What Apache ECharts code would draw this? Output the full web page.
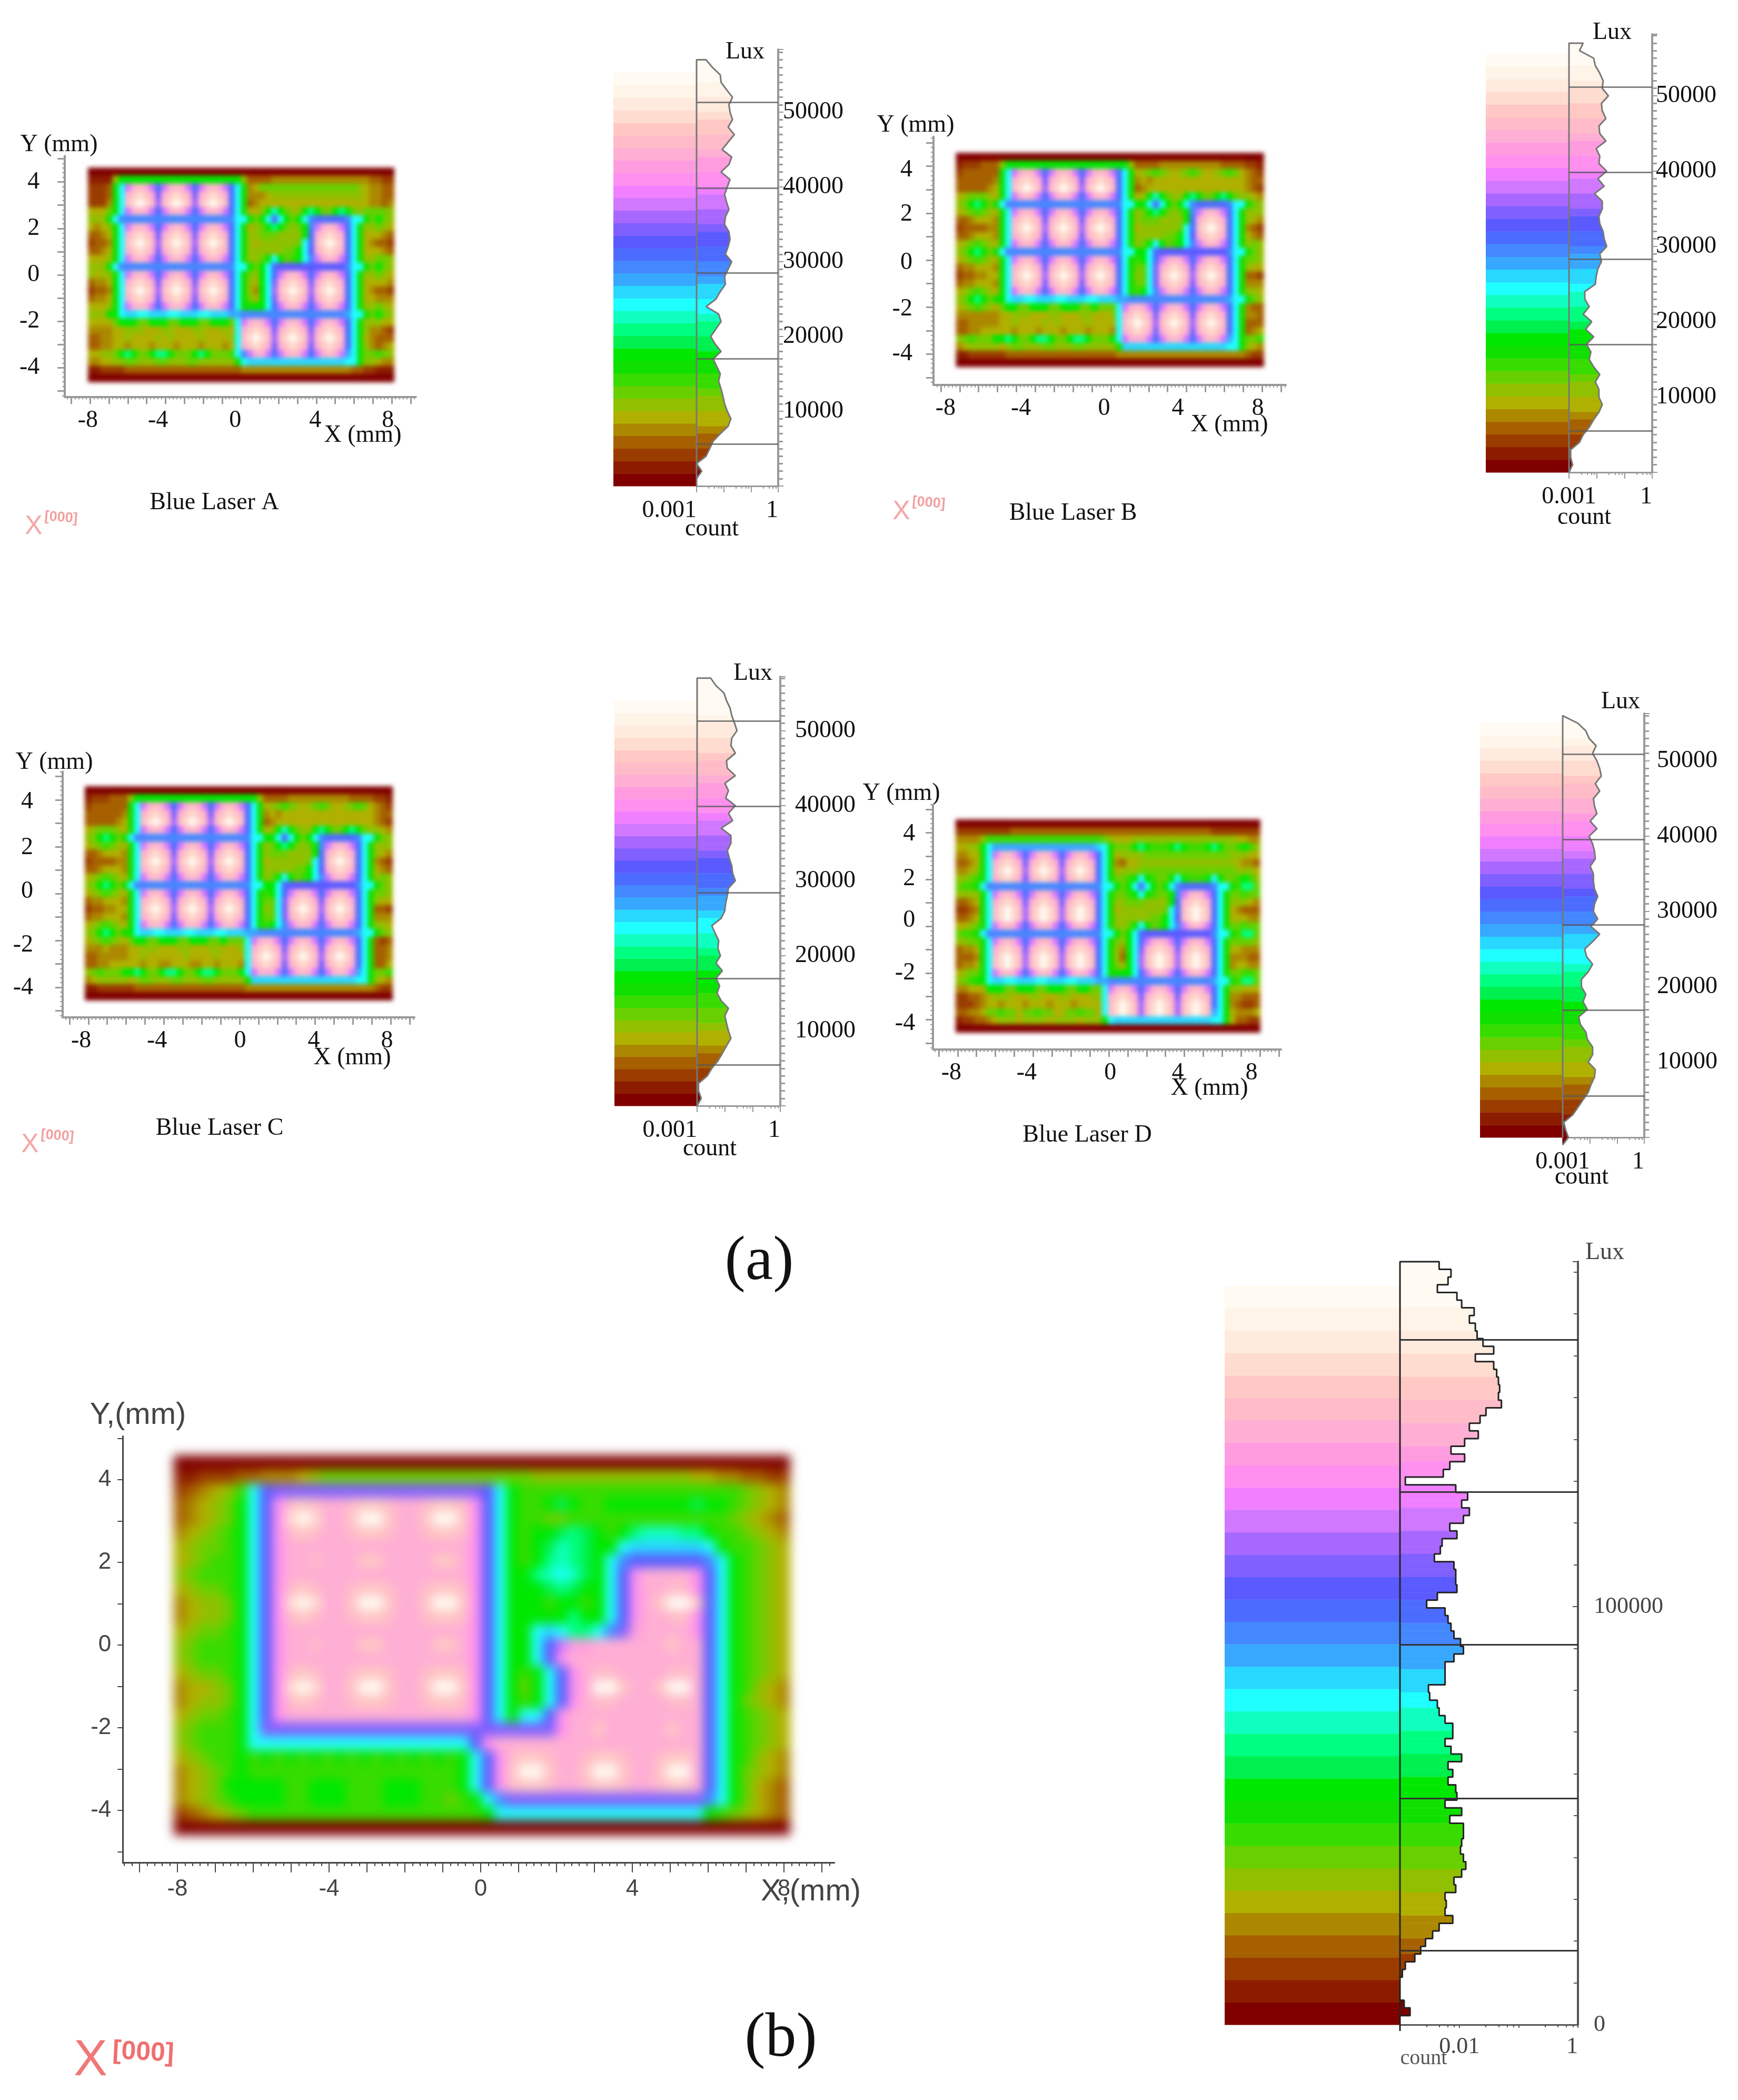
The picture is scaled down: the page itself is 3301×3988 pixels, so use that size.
<!DOCTYPE html>
<html><head><meta charset="utf-8">
<style>
html,body{margin:0;padding:0;background:#fff}
#chart{width:3301px;height:3988px}
#chart canvas[data-zr-dom-id="zr_0"]{filter:blur(4px)}
#chart canvas[data-zr-dom-id="zr_1"]{filter:blur(10px)}
</style>
<script src="https://cdn.jsdelivr.net/npm/echarts@6/dist/echarts.min.js"></script>
</head><body><div id="chart"></div>
<script>
// colour bands of the lux scale, dark red (low) to near white (high)
const BANDS=['#800000','#8c1c00','#9a3c00','#a66000','#ac8800','#b0b000','#90c000','#68d000','#38dc00','#10e000','#00e800','#00f050','#00ff80','#10ffc0','#20ffff','#28d8ff','#38a8ff','#4488ff','#4c6cff','#5a5aff','#8060ff','#a868ff','#d078ff','#f080ff','#ff90f0','#ff9ce0','#ffaed4','#ffbcc8','#ffc8c4','#ffdcd0','#ffeade','#fff4e8','#fffaf2'];
const X_LABELS=[-8,-4,0,4,8];
const Y_LABELS=[-4,-2,0,2,4];

// illuminance maps, one base-33 band letter per cell, rows from top to bottom
const Z50='00000000000000000000000000000000000000000000000000';
const T='6aaaaaaaaaaaaaaaaaaaa6';
const P1='9emqrqmimqrqmimqrqmie9';
const P2='9eqstsqkqstsqkqstsqie9';
const P3='9ertwtrlrtwtrlrtwtrie9';
const BD='ehhhhhhhhhhhhhhhhhhhee';
const U='aeffeefffeefffeefffggh';
const heatA=[Z50,
'1111'+T+'333344444444444444443322',
'2223'+P1+'457777777777777777654433',
'2223'+P2+'444566666666666666654433',
'2224'+P3+'345555555555555555554434',
'5557'+P1+'556ada766aca77aca7677776',
'6669'+BD+'a7aeiea7aehiiiiihee97a76',
'5456'+P1+'567aca767ah'+'mqrqm'+'ie9'+'66765',
'3345'+P2+'66777666'+'6ai'+'qstsq'+'ie9'+'55543',
'2334'+P3+'65666666'+'7ei'+'rtwtr'+'ie9'+'54332',
'3345'+P2+'66666677'+'aej'+'qstsq'+'ie9'+'55543',
'5556'+P1+'667aea78'+'aeh'+'mqrqm'+'ie9'+'66776',
'6669'+BD+'a7aei'+'jjjjj'+'j'+'jjjjj'+'hee97a76',
'6566'+P1+'76aei'+'mqrqm'+'i'+'mqrqm'+'ie9'+'66765',
'3445'+P2+'65aek'+'qstsq'+'k'+'qstsq'+'ie9'+'55554',
'2334'+P3+'64ael'+'rtwtr'+'l'+'rtwtr'+'ie9'+'54332',
'3445'+P2+'75aek'+'qstsq'+'k'+'qstsq'+'ie9'+'55444',
'5556'+P1+'9aaei'+'mqrqm'+'i'+'mqrqm'+'ie9'+'66765',
'6669'+U+'hhhhhhhhhhhhhhhh'+'gee97a76',
'5555'+'7aaa77aaa77aaa77aaa7'+'em'+'qrqm'+'i'+'mqrqm'+'i'+'mqrqm'+'ie9'+'66655',
'4444'+'55666555665556655565'+'eq'+'stsq'+'k'+'qstsq'+'k'+'qstsq'+'ie9'+'64432',
'3344'+'55655556565555655556'+'er'+'twtr'+'l'+'rtwtr'+'l'+'rtwtr'+'ie9'+'54333',
'3344'+'55455545554555455545'+'eq'+'stsq'+'k'+'qstsq'+'k'+'qstsq'+'ie9'+'64345',
'5566'+'7aca77acca777aca7778'+'eh'+'mqqm'+'i'+'mqrqm'+'i'+'mqrqm'+'ge9'+'77876',
'4455'+'66776667766677666666'+'9e'+'ffffffffffffffffee'+'9'+'66544',
'1122'+'22333333333333333333'+'34'+'444444444444444443'+'3'+'22111',
Z50];
const heatB=[Z50,
'1222333'+T+'333344444444443333221',
'2333333'+P1+'567876567875567875432',
'3333334'+P2+'454555555555555555433',
'3333345'+P3+'345555555555555555432',
'5677765'+P1+'56ada766aca77aca76654',
'67aca79'+BD+'aaeiea7aehiiiiihee976',
'5678765'+P1+'67aca767ah'+'mqrqm'+'ie9'+'666',
'3345554'+P2+'6777666'+'6ai'+'qstsq'+'ie9'+'654',
'2333344'+P3+'5666666'+'7ei'+'rtwtr'+'ie9'+'432',
'3345554'+P2+'6666677'+'aej'+'qstsq'+'ie9'+'543',
'5678765'+P1+'67aea78'+'aeh'+'mqrqm'+'ie9'+'676',
'67aca79'+BD+'aaei'+'jjjjj'+'j'+'jjjjj'+'hee976',
'5678765'+P1+'8aei'+'mqrqm'+'i'+'mqrqm'+'ie9'+'776',
'3445554'+P2+'77ek'+'qstsq'+'k'+'qstsq'+'ie9'+'655',
'2334455'+P3+'67ek'+'rtwtr'+'l'+'rtwtr'+'ie9'+'332',
'3445554'+P2+'77ek'+'qstsq'+'k'+'qstsq'+'ie9'+'444',
'5678765'+P1+'8aeh'+'mqrqm'+'i'+'mqrqm'+'ie9'+'665',
'67aca79'+U+'hhhhhhhhhhhhhhh'+'g'+'ee'+'976',
'5678765'+'7aa77aaa77aaa77a777'+'e'+'mqrqm'+'i'+'mqrqm'+'i'+'mqrqm'+'ie9'+'433',
'4444444'+'5566655566555665556'+'e'+'qstsq'+'k'+'qstsq'+'k'+'qstsq'+'ie9'+'443',
'3344444'+'5565555656555565555'+'e'+'rtwtr'+'l'+'rtwtr'+'l'+'rtwtr'+'ie9'+'333',
'3344555'+'5545554555455545554'+'e'+'qstsq'+'k'+'qstsq'+'k'+'qstsq'+'ie9'+'345',
'678777a'+'aca77acca77acca777a'+'e'+'mqqqm'+'i'+'mqrqm'+'i'+'mqrqm'+'ge9'+'778',
'4566666'+'5677666776667766666'+'9'+'fffffffffffffffffee'+'9'+'654',
'1122222'+'2333333333333333333'+'4'+'4444444444444444444'+'4'+'322',
Z50];
const heatC=heatB.slice();
heatC[19]='5678765'+'7aa77aaa77aaa77a777'+'e'+'mqrqm'+'i'+'mqrqm'+'i'+'mqrqm'+'ie9'+'323';
heatC[20]='4445444'+'5566655566555665556'+'e'+'qstsq'+'k'+'qstsq'+'k'+'qstsq'+'ie9'+'334';
heatC[21]='3344444'+'5565555556555565555'+'e'+'rtwtr'+'l'+'rtwtr'+'l'+'rtwtr'+'ie9'+'334';
heatC[22]='3344555'+'5545544555445545554'+'e'+'qstsq'+'k'+'qstsq'+'k'+'qstsq'+'ie9'+'335';
const heatD=[Z50,
'22222222233333333333333333333333333333333322222222',
'4444'+'6888888888888888888876'+'555666666666666666665544',
'5566'+'aegggggggggggggggggfe9'+'777aca888aca888aca778a86',
'4455'+P1+'566667777777777777766655',
'3345'+P2+'435566666666666666665443',
'4456'+P3+'566677777777777777776665',
'6678'+P2+'778aea877aea888aea778a86',
'7889'+BD+'a7aeiea7aehiiiiihee98cc7',
'6666'+P1+'778aea877ah'+'mqrqm'+'ie9'+'77877',
'3345'+P2+'66777666'+'6ai'+'qstsq'+'ie9'+'66654',
'2234'+P3+'56666666'+'7ei'+'rtwtr'+'ie9'+'54333',
'3345'+P3+'66666677'+'aej'+'rtwtr'+'ie9'+'55544',
'5567'+P1+'667aea78'+'aeh'+'mqrqm'+'ie9'+'77877',
'7889'+BD+'a7aei'+'jjjjj'+'j'+'jjjjj'+'hee98cc7',
'6677'+P1+'76aei'+'mqrqm'+'i'+'mqrqm'+'ie9'+'77776',
'3445'+P2+'64aek'+'qstsq'+'k'+'qstsq'+'ie9'+'55444',
'3334'+P3+'63ael'+'rtwtr'+'l'+'rtwtr'+'ie9'+'44433',
'3445'+P3+'75ael'+'rtwtr'+'l'+'rtwtr'+'ie9'+'45544',
'5677'+P1+'9aaei'+'mqrqm'+'i'+'mqrqm'+'ie9'+'77887',
'6789'+U+'hhhhhhhhhhhhhhhh'+'gee98cc7',
'4455'+'5aaa77aaa77aaa77aa77'+'em'+'qrqm'+'i'+'mqrqm'+'i'+'mqrqm'+'ie9'+'66555',
'2233'+'45666555665556655566'+'eq'+'stsq'+'k'+'qstsq'+'k'+'qstsq'+'ie9'+'44333',
'2223'+'45545554555455545555'+'er'+'twtr'+'l'+'rtwtr'+'l'+'rtwtr'+'ie9'+'43223',
'3344'+'57787757787755778775'+'er'+'twtr'+'l'+'rtwtr'+'l'+'rtwtr'+'ge9'+'54445',
'1223'+'34566656666566665666'+'9e'+'ffffffffffffffffee'+'9'+'53322',
Z50];
const QQ='qqqqqqqqqqqqqqq',WW='twtqqswwsqqswws',HH='rsrqqrssrqqrssr',FF='qqrqqqssqqqqssq';
const EB=p=>'aejo'+p+'ojea';
const heatE=[Z50,
'11222334445677777777777777777666666666666655443322',
'23456'+'8ej'+'kkkkkkkkkkkkkkkkk'+'jea'+'8888888888888888887654',
'34567'+EB(HH)+'88aba88aaaaaaabaa87654',
'34567'+EB(WW)+'8877888888888888876543',
'45678'+EB(HH)+'8aabcba'+'8'+'a'+'cdddcc'+'a'+'8'+'8'+'7654',
'56778'+EB(QQ)+'8abdcba'+'a'+'e'+'ffffff'+'e'+'a'+'8'+'8765',
'56788'+EB(FF)+'8acdcba'+'e'+'h'+'jjjjjj'+'h'+'e'+'a'+'8765',
'67888'+EB(QQ)+'acdedba'+'ej'+'oqqqqo'+'jea'+'8765',
'56778'+EB(HH)+'aabcbaa'+'ej'+'oqqrro'+'jea'+'8765',
'45667'+EB(WW)+'aa8aa8a'+'ej'+'oqswws'+'jea'+'8765',
'45667'+EB(HH)+'aaaacaa'+'ej'+'oqqrro'+'jea'+'8765',
'56778'+EB(QQ)+'aefecce'+'hk'+'pqqqqo'+'jea'+'8765',
'67888'+EB(FF)+'aejmppq'+'qq'+'qqqsqq'+'jea'+'8765',
'67888'+EB(QQ)+'aejoqqq'+'qq'+'qqqqqq'+'jea'+'8765',
'56778'+EB(HH)+'8aejoqr'+'rq'+'qqqrrq'+'jea'+'8765',
'45567'+EB(WW)+'7aejoqw'+'ws'+'qqswwq'+'jea'+'8654',
'45667'+EB(HH)+'8aejoqr'+'rq'+'qqqrrq'+'jea'+'7654',
'56778'+EB(QQ)+'eejoqqq'+'qq'+'qqqqqq'+'jea'+'8765',
'67888'+'ae'+'kkkkkkkkkkkkkkkkkkkkkkkk'+'o'+'qqsqqqqqsqq'+'jea'+'8765',
'67888'+'a'+'eeeeeeeeeeeeeeeeee'+'jo'+'qqqqqqqqqqqqqqqqq'+'jea'+'8765',
'56788'+'a'+'89898989898989898'+'aejo'+'rssrqqrssrqqrssq'+'jea'+'8654',
'45678'+'a'+'88888888888888888'+'aejo'+'swwsqqswwsqqswwq'+'jea'+'7654',
'4567a'+'a'+'aaa88aaa888aaa888'+'aejo'+'rssrqqrssrqqrssq'+'jea'+'7543',
'45678'+'a'+'aaa88aaa888aaa887'+'8aeh'+'kkkkkkkkkkkkkkkk'+'hea'+'7543',
'23456'+'7888888888888888888'+'8a'+'eeeeeeeeeeeeeeeee'+'a87'+'6543',
Z50];

// log10(count) per 1000 lux bin, highest lux first
const histA=[-2.65,-2.42,-2.13,-2.10,-1.90,-1.68,-1.81,-1.77,-1.68,-1.84,-1.61,-1.84,-2.06,-1.71,-1.81,-2.10,-1.77,-1.87,-1.97,-1.90,-1.81,-1.94,-1.97,-1.81,-1.77,-1.84,-1.94,-1.71,-1.84,-1.97,-1.94,-2.13,-2.29,-2.65,-2.19,-2.10,-2.29,-2.48,-2.32,-2.10,-2.39,-2.26,-2.13,-2.19,-2.10,-2.03,-1.97,-1.87,-1.74,-1.84,-2.13,-2.39,-2.52,-2.65,-3,-2.81,-3,-3];
const histB=[-2.49,-2.62,-2.11,-2.05,-1.89,-1.77,-1.80,-1.58,-1.83,-1.80,-1.67,-1.92,-1.89,-1.67,-2.02,-1.89,-1.92,-1.64,-1.96,-1.73,-2.08,-1.80,-1.80,-1.92,-1.89,-1.77,-1.73,-1.64,-1.89,-1.83,-1.96,-2.02,-2.05,-2.43,-2.43,-2.27,-2.49,-2.18,-2.40,-2.11,-2.37,-2.21,-2.27,-2.11,-1.89,-2.05,-1.92,-1.92,-1.80,-1.92,-2.11,-2.27,-2.49,-2.62,-2.94,-2.94,-2.87,-3];
const histC=[-2.51,-2.32,-2.03,-1.94,-1.81,-1.75,-1.65,-1.56,-1.75,-1.78,-1.62,-1.94,-1.91,-1.62,-2.00,-1.87,-1.97,-1.62,-1.87,-1.72,-2.13,-1.78,-1.78,-1.91,-1.84,-1.75,-1.72,-1.62,-1.87,-1.91,-1.97,-2.00,-2.13,-2.47,-2.35,-2.22,-2.25,-2.16,-2.32,-2.09,-2.32,-2.19,-2.28,-2.13,-1.87,-2.00,-1.94,-1.87,-1.78,-1.94,-2.09,-2.25,-2.47,-2.63,-2.95,-2.95,-2.85,-3];
const histD=[-3,-2.44,-2.15,-2.03,-1.77,-1.90,-1.74,-1.64,-1.58,-1.80,-1.64,-1.87,-1.83,-1.74,-1.99,-1.74,-2.03,-1.90,-1.83,-1.80,-1.99,-1.87,-1.87,-1.83,-1.71,-1.83,-1.87,-1.71,-1.96,-1.64,-1.90,-2.19,-2.12,-1.90,-2.06,-2.31,-2.31,-2.15,-2.25,-2.09,-2.41,-2.35,-2.15,-2.09,-1.90,-1.90,-2.06,-1.80,-1.83,-1.96,-2.06,-2.25,-2.44,-2.63,-2.96,-2.89,-2.79,-3];
const histE=[-2.34,-2.14,-2.19,-2.37,-2.04,-1.96,-1.75,-1.83,-1.73,-1.70,-1.60,-1.42,-1.73,-1.42,-1.37,-1.34,-1.32,-1.34,-1.29,-1.55,-1.65,-1.83,-1.68,-1.91,-2.14,-1.91,-2.16,-2.27,-2.91,-2.06,-1.86,-1.96,-1.83,-1.93,-2.16,-2.04,-2.29,-2.32,-2.42,-2.09,-2.06,-2.06,-2.04,-2.37,-2.55,-2.24,-2.19,-2.14,-2.09,-1.98,-1.93,-2.09,-2.24,-2.24,-2.24,-2.52,-2.50,-2.37,-2.34,-2.24,-2.11,-2.11,-2.24,-2.14,-1.96,-2.19,-2.11,-2.19,-2.06,-2.04,-2.24,-1.96,-2.16,-1.93,-1.93,-1.96,-1.98,-1.93,-1.89,-1.96,-2.09,-2.06,-2.24,-2.22,-2.24,-2.11,-2.34,-2.45,-2.57,-2.65,-2.75,-2.91,-2.96,-3,-3,-3,-2.93,-2.83,-3,-3,-3];

// horizontal marker levels of each histogram (lux)
const linesA=[5630,17040,28500,39860,51340];
const linesB=[5490,16990,28320,39820,51190];
const linesC=[5470,16980,28420,39930,51300];
const linesD=[5520,16920,28250,39580,50910];
const linesE=[17760,54160,90930,127450,163850];

const SERIF='"Liberation Serif","Times New Roman",serif';
const SANS='"Liberation Sans Narrow","Liberation Sans",sans-serif';
const ink='#111';

const maps=[
 {rows:heatA,cx:457.6,cy:522,sx:35.8,sy:44.1,x:[-9.34,9.28],y:[-5.25,5.12],hx:[-8.12,8.11],hy:[-4.6,4.62],yMargin:48,
  xAt:[-8.12,-4.4,-0.3,3.94,7.8],yAt:[-4,-2,0,2,4]},
 {rows:heatB,cx:2110,cy:494,sx:35.9,sy:44.6,x:[-9.39,9.25],y:[-5.31,5.25],hx:[-8.2,8.07],hy:[-4.53,4.57],yMargin:40,
  xAt:[-8.75,-4.76,-0.36,3.54,7.77],yAt:[-4,-2.09,-0.12,1.96,3.83]},
 {rows:heatC,cx:455,cy:1697,sx:35.9,sy:44.5,x:[-9.36,9.25],y:[-5.28,5.21],hx:[-8.19,8.08],hy:[-4.54,4.58],yMargin:56,
  xAt:[-8.38,-4.37,0.03,3.93,7.8],yAt:[-4.03,-2.21,0.09,1.95,3.91]},
 {rows:heatD,cx:2106,cy:1759,sx:35.9,sy:44.4,x:[-9.3,9.11],y:[-5.27,5.2],hx:[-8.11,7.99],hy:[-4.53,4.57],yMargin:34,
  xAt:[-8.33,-4.35,0.08,3.65,7.55],yAt:[-4.16,-2,0.24,2.03,3.94]},
 {rows:heatE,cx:913,cy:3124,sx:72,sy:78.5,x:[-9.44,9.33],y:[-5.27,5.05],hx:[-8.1,8.15],hy:[-4.59,4.59],yMargin:22,big:true,
  xAt:[-8,-4,0,4,8],yAt:[-4,-2,0,2,4]}
];
const hists=[
 {vals:histA,lines:linesA,barL:1165,a0:1323,a1:1478,zero:923,k:14.2,top:94,barTop:138,step:1000,first:57000,lm:9,minAlign:'right'},
 {vals:histB,lines:linesB,barL:2822,a0:2980,a1:3138,zero:897,k:14.3,top:65,barTop:102,step:1000,first:57000,lm:7,minAlign:'center'},
 {vals:histC,lines:linesC,barL:1167,a0:1324,a1:1482,zero:2100,k:14.25,top:1285,barTop:1331,step:1000,first:57000,lm:28,minAlign:'right'},
 {vals:histD,lines:linesD,barL:2811,a0:2968,a1:3123,zero:2160,k:14.3,top:1355,barTop:1373,step:1000,first:56000,lm:24,minAlign:'center'},
 {vals:histE,lines:linesE,barL:2326,a0:2659,a1:2997,zero:3845,k:7.94,top:2396,barTop:2442,step:1840,first:182500,lm:30,big:true}
];
const texts=[
 ['Y (mm)',112,275],['X (mm)',689,827],['Blue Laser A',407,955],['Lux',1415,99],['count',1352,1005],
 ['Y (mm)',1739,238],['X (mm)',2335,807],['Blue Laser B',2038,975],['Lux',3062,62],['count',3009,983],
 ['Y (mm)',103,1448],['X (mm)',669,2009],['Blue Laser C',417,2143],['Lux',1430,1279],['count',1348,2182],
 ['Y (mm)',1712,1507],['X (mm)',2297,2067],['Blue Laser D',2065,2156],['Lux',3078,1333],['count',3004,2236]
];

const grid=[],xAxis=[],yAxis=[],series=[],graphic=[];
const range=(a,b,s)=>{const r=[];for(let i=Math.ceil(a/s-1e-9);i*s<=b+1e-9;i++)r.push(+(i*s).toFixed(2));return r;};
const tick=(col,w,len,vals)=>({show:true,length:len,lineStyle:{color:col,width:w},customValues:vals});

maps.forEach(m=>{
  const gi=grid.length;
  const c=m.big?'#444':'#999';
  const lw=m.big?3:4;
  const labelFont={fontFamily:m.big?SANS:SERIF,fontSize:m.big?44:46,color:m.big?'#444':ink};
  grid.push({left:m.cx+m.sx*m.x[0],top:m.cy-m.sy*m.y[1],width:m.sx*(m.x[1]-m.x[0]),height:m.sy*(m.y[1]-m.y[0])});
  const xBase={type:'value',gridIndex:gi,min:m.x[0],max:m.x[1],zlevel:2,splitLine:{show:false},position:'bottom'};
  const yBase={type:'value',gridIndex:gi,min:m.y[0],max:m.y[1],zlevel:2,splitLine:{show:false},position:'left'};
  const xi=xAxis.length,yi=yAxis.length;
  xAxis.push(Object.assign({},xBase,{axisLine:{show:true,onZero:false,lineStyle:{color:c,width:lw}},
    axisTick:tick(c,2,m.big?6:5,range(m.x[0],m.x[1],0.2)),axisLabel:{show:false}}));
  xAxis.push(Object.assign({},xBase,{axisLine:{show:false,onZero:false},
    axisTick:tick(c,m.big?2:3,m.big?18:14,range(m.x[0],m.x[1],1)),
    axisLabel:Object.assign({show:true,margin:m.big?28:22,customValues:m.xAt,
      formatter:v=>String(X_LABELS[m.xAt.indexOf(v)])},labelFont)}));
  yAxis.push(Object.assign({},yBase,{axisLine:{show:true,onZero:false,lineStyle:{color:c,width:lw}},
    axisTick:tick(c,2,m.big?0:5,range(m.y[0],m.y[1],0.2)),axisLabel:{show:false}}));
  yAxis.push(Object.assign({},yBase,{axisLine:{show:false,onZero:false},
    axisTick:tick(c,m.big?2:3,m.big?10:14,range(m.y[0],m.y[1],1)),
    axisLabel:Object.assign({show:true,margin:m.yMargin,customValues:m.yAt,
      formatter:v=>String(Y_LABELS[m.yAt.indexOf(v)])},labelFont)}));
  const nr=m.rows.length,nc=50,dx=(m.hx[1]-m.hx[0])/nc,dy=(m.hy[1]-m.hy[0])/nr;
  const data=[];
  m.rows.forEach((row,r)=>{
    for(let i=0;i<nc;i++){
      const ch=row.charAt(Math.min(i,row.length-1));
      data.push([m.hx[0]+i*dx,m.hy[1]-r*dy,parseInt(ch,33)||0]);
    }
  });
  series.push({type:'custom',coordinateSystem:'cartesian2d',xAxisIndex:xi,yAxisIndex:yi,zlevel:m.big?1:0,
    silent:true,animation:false,clip:false,data:data,encode:{x:0,y:1},progressive:0,
    renderItem:(p,api)=>{
      const a=api.coord([api.value(0),api.value(1)]),b=api.coord([api.value(0)+dx,api.value(1)-dy]);
      return {type:'rect',shape:{x:a[0],y:a[1],width:b[0]-a[0]+1,height:b[1]-a[1]+1},style:{fill:BANDS[api.value(2)]}};
    }});
});

hists.forEach(h=>{
  const maxLux=(h.zero-h.top)/h.k*1000, barLux=(h.zero-h.barTop)/h.k*1000, band=barLux/BANDS.length;
  const H=h.zero-h.top;
  // colour bar
  let gi=grid.length;
  grid.push({left:h.barL,top:h.top,width:h.a0-h.barL,height:H});
  let xi=xAxis.length,yi=yAxis.length;
  xAxis.push({type:'value',gridIndex:gi,min:0,max:1,show:false});
  yAxis.push({type:'value',gridIndex:gi,min:0,max:maxLux,show:false});
  series.push({type:'custom',xAxisIndex:xi,yAxisIndex:yi,zlevel:2,z:1,silent:true,animation:false,
    data:BANDS.map((c,i)=>[0,i*band,1,(i+1)*band,i]),encode:{x:[0,2],y:[1,3]},
    renderItem:(p,api)=>{
      const a=api.coord([0,api.value(3)]),b=api.coord([1,api.value(1)]);
      return {type:'rect',shape:{x:a[0],y:a[1],width:b[0]-a[0],height:b[1]-a[1]+0.5},style:{fill:BANDS[api.value(4)]}};
    }});
  // histogram
  gi=grid.length;
  grid.push({left:h.a0,top:h.top,width:h.a1-h.a0,height:H});
  xi=xAxis.length;yi=yAxis.length;
  const c=h.big?'#555':'#999';
  const font={fontFamily:SERIF,fontSize:h.big?44:46,color:h.big?'#444':ink};
  xAxis.push({type:'log',logBase:10,gridIndex:gi,min:0.001,max:1,position:'bottom',zlevel:2,splitLine:{show:false},
    axisLine:{show:true,onZero:false,lineStyle:{color:c,width:3}},
    axisTick:{show:true,length:h.big?6:12,lineStyle:{color:c,width:2}},
    minorTick:{show:true,splitNumber:5,length:5,lineStyle:{color:c,width:2}},
    axisLabel:Object.assign({show:true,margin:h.big?20:24,showMinLabel:true,showMaxLabel:true,hideOverlap:false,
      alignMinLabel:h.minAlign||'center',alignMaxLabel:'right',
      formatter:v=>{const e=Math.round(Math.log10(v));
        if(h.big) return e===-2?'0.01':e===0?'1':'';
        return e===-3?'0.001':e===0?'1':'';}},font)});
  yAxis.push({type:'value',gridIndex:gi,min:0,max:maxLux,position:'right',zlevel:2,splitLine:{show:false},
    interval:h.big?100000:10000,
    axisLine:{show:true,onZero:false,lineStyle:{color:c,width:4}},
    axisTick:{show:true,inside:!!h.big,length:10,lineStyle:{color:c,width:2}},
    minorTick:{show:true,splitNumber:10,length:h.big?8:9,lineStyle:{color:c,width:h.big?2:3}},
    axisLabel:Object.assign({show:true,margin:h.lm,showMaxLabel:false,showMinLabel:!!h.big,
      formatter:v=>(h.big?(v===0||v===100000):(v>0&&v%10000===0))?String(v):''},font)});
  const pts=h.vals.map((l,i)=>[Math.pow(10,l),h.first-i*h.step]);
  const fill=[];
  for(let i=0;i<pts.length-1;i++){
    const next=h.big?pts[i][0]:pts[i+1][0];
    fill.push([pts[i][0],pts[i][1],next,pts[i+1][1]]);
  }
  series.push({type:'custom',xAxisIndex:xi,yAxisIndex:yi,zlevel:2,z:2,silent:true,animation:false,clip:false,
    data:fill,encode:{x:[0,2],y:[1,3]},
    renderItem:(p,api)=>{
      const c1=api.value(0),l1=api.value(1),c2=api.value(2),l2=api.value(3);
      const mid=(l1+l2)/2,idx=Math.max(0,Math.min(BANDS.length-1,Math.floor(mid/band)));
      const poly=[api.coord([0.001,l1]),api.coord([c1,l1]),api.coord([c2,l2]),api.coord([0.001,l2])];
      return {type:'polygon',shape:{points:poly},style:{fill:BANDS[idx],stroke:BANDS[idx],lineWidth:0.5}};
    }});
  // outline
  const out=[[0.001,0],[0.001,h.first]];
  pts.forEach((q,i)=>{out.push(q); if(h.big&&i<pts.length-1) out.push([q[0],pts[i+1][1]]);});
  out.push([0.001,pts[pts.length-1][1]]);
  series.push({type:'line',xAxisIndex:xi,yAxisIndex:yi,zlevel:2,z:5,silent:true,animation:false,clip:false,
    data:out,symbol:'none',showSymbol:false,
    lineStyle:{color:h.big?'#222':'#777',width:3},
    markLine:{silent:true,symbol:'none',animation:false,zlevel:2,z:6,label:{show:false},
      lineStyle:{type:'solid',color:h.big?'#333':'rgba(90,90,90,0.75)',width:3},
      data:h.lines.map(v=>({yAxis:v}))}});
});

function txt(t,x,y,size,fam,col,extra){
  const st=Object.assign({text:t,fontFamily:fam,fontSize:size,fill:col,textAlign:'center',textVerticalAlign:'middle'},(extra&&extra.style)||{});
  graphic.push({type:'text',x:x,y:y,zlevel:2,silent:true,rotation:(extra&&extra.rotation)||0,style:st});
}
texts.forEach(t=>txt(t[0],t[1],t[2],46,SERIF,ink));
txt('(a)',1442,2398,118,SERIF,ink);
txt('(b)',1483,3873,118,SERIF,ink);
txt('Y,(mm)',262,2688,58,'"Liberation Sans",sans-serif','#444');
txt('X,(mm)',1540,3593,58,'"Liberation Sans",sans-serif','#444');
txt('Lux',3048,2379,46,SERIF,'#444');
txt('count',2704,3909,40,SERIF,'#555');
[[64,1000],[1712,972],[57,2174]].forEach(p=>{
  txt('X',p[0],p[1],50,'"Liberation Sans",sans-serif','#f4a6a6');
  txt('[000]',p[0]+52,p[1]-17,27,'"Liberation Sans",sans-serif','#f2a0a0',{rotation:-0.08,style:{fontWeight:'bold'}});
});
txt('X',172,3915,96,'"Liberation Sans",sans-serif','#f07878');
txt('[000]',272,3898,50,SANS,'#ee7070',{rotation:-0.05,style:{fontWeight:'bold'}});

const chart=echarts.init(document.getElementById('chart'),null,{renderer:'canvas',width:3301,height:3988});
chart.setOption({animation:false,backgroundColor:'transparent',tooltip:{show:false},grid,xAxis,yAxis,series,graphic:{elements:graphic}});
</script></body></html>
